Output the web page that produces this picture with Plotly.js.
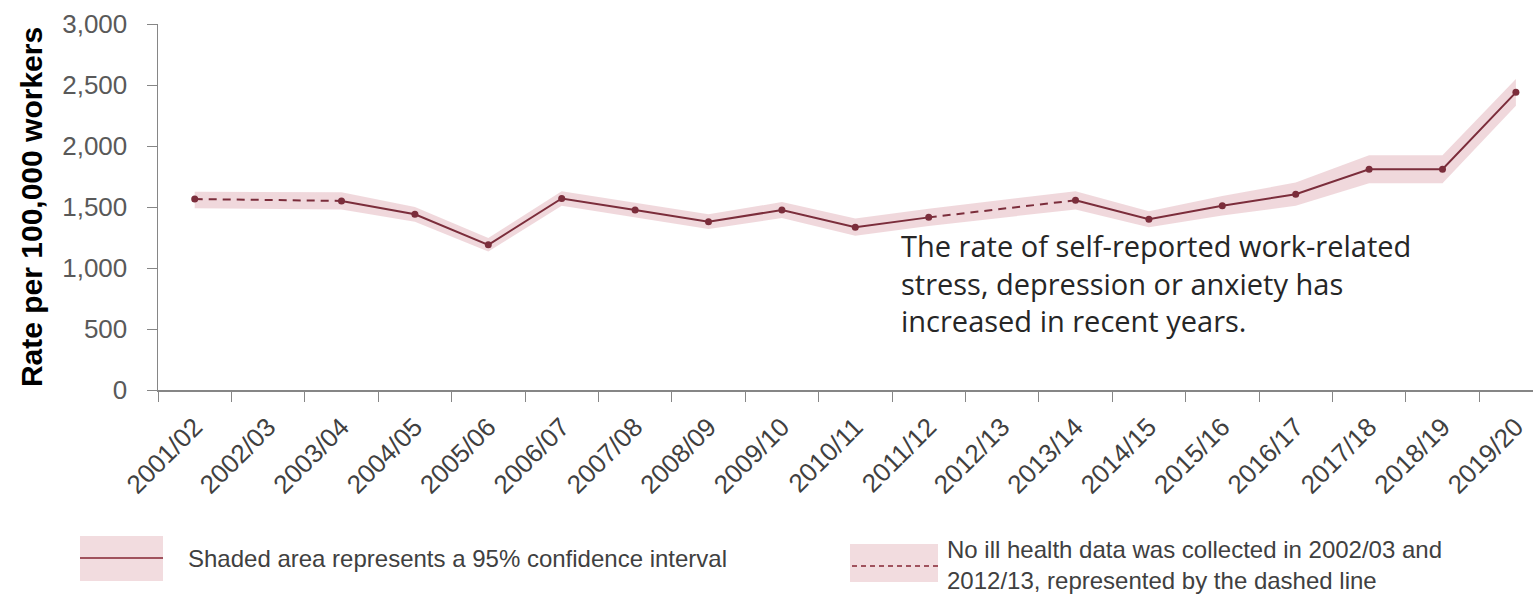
<!DOCTYPE html>
<html>
<head>
<meta charset="utf-8">
<script src="https://cdn.plot.ly/plotly-3.0.1.min.js"></script>
<style>
  html, body { margin: 0; padding: 0; background: #ffffff; }
  #chart { width: 1533px; height: 594px; }
</style>
</head>
<body>
<div id="chart"></div>
<script>
// ---- Data ----
const categories = ['2001/02','2002/03','2003/04','2004/05','2005/06','2006/07','2007/08','2008/09','2009/10','2010/11','2011/12','2012/13','2013/14','2014/15','2015/16','2016/17','2017/18','2018/19','2019/20'];
const rate    = [1565, null, 1550, 1440, 1190, 1570, 1475, 1380, 1475, 1335, 1415, null, 1555, 1400, 1510, 1605, 1810, 1810, 2440];
const ciLower = [1490, null, 1480, 1380, 1135, 1510, 1415, 1320, 1410, 1265, 1345, null, 1480, 1335, 1430, 1510, 1695, 1695, 2330];
const ciUpper = [1625, null, 1620, 1500, 1245, 1630, 1535, 1440, 1540, 1405, 1485, null, 1630, 1465, 1590, 1700, 1925, 1925, 2550];
const yTickVals = [0, 500, 1000, 1500, 2000, 2500, 3000];

const annotationText = 'The rate of self-reported work-related<br>stress, depression or anxiety has<br>increased in recent years.';
const legendText1 = 'Shaded area represents a 95% confidence interval';
const legendText2 = 'No ill health data was collected in 2002/03 and<br>2012/13, represented by the dashed line';

// ---- Styles ----
const lineColor = '#7b2d3b';
const bandColor = 'rgba(226,178,185,0.5)';
const legendLineColor = '#a0525d';

// dashed bridge across years with no data (derived from the data arrays)
const dashX = [], dashY = [];
rate.forEach((v, i) => {
  if (v === null && i > 0 && i < rate.length - 1) {
    dashX.push(categories[i - 1], categories[i + 1], null);
    dashY.push(rate[i - 1], rate[i + 1], null);
  }
});

const traces = [
  { x: categories, y: ciLower, type: 'scatter', mode: 'lines', connectgaps: true,
    line: { width: 0, color: bandColor }, hoverinfo: 'skip', showlegend: false },
  { x: categories, y: ciUpper, type: 'scatter', mode: 'lines', connectgaps: true,
    fill: 'tonexty', fillcolor: bandColor,
    line: { width: 0, color: bandColor }, hoverinfo: 'skip', showlegend: false },
  { x: dashX, y: dashY, type: 'scatter', mode: 'lines', connectgaps: false,
    line: { color: lineColor, width: 2, dash: '8px,6px' }, hoverinfo: 'skip', showlegend: false },
  { x: categories, y: rate, type: 'scatter', mode: 'lines+markers', connectgaps: false,
    line: { color: lineColor, width: 2 }, marker: { color: lineColor, size: 7 },
    name: 'Rate per 100,000 workers', showlegend: false }
];

// pixel helpers for decorations outside the plot area
const L = 158, T = 24, B = 390, R = 1533;
const W = R - L, H = B - T;
const px = v => (v - L) / W;
const py = v => (B - v) / H;

const shapes = [
  { type: 'rect', xref: 'paper', yref: 'paper', x0: px(80), x1: px(163), y0: py(581), y1: py(536),
    fillcolor: '#f2dcdf', line: { width: 0 } },
  { type: 'line', xref: 'paper', yref: 'paper', x0: px(80), x1: px(163), y0: py(558), y1: py(558),
    line: { color: legendLineColor, width: 2 } },
  { type: 'rect', xref: 'paper', yref: 'paper', x0: px(850), x1: px(938), y0: py(582), y1: py(544),
    fillcolor: '#f2dcdf', line: { width: 0 } },
  { type: 'line', xref: 'paper', yref: 'paper', x0: px(852), x1: px(938), y0: py(566), y1: py(566),
    line: { color: legendLineColor, width: 2, dash: '5px,4px' } }
];

const legendFont = { family: '"Liberation Sans", Arial, sans-serif', size: 24, color: '#404040' };

const annotations = [
  { text: annotationText, xref: 'paper', yref: 'paper', x: px(899), y: py(224),
    xanchor: 'left', yanchor: 'top', align: 'left', showarrow: false,
    font: { family: '"Open Sans", "Noto Sans", sans-serif', size: 29, color: '#262626' } },
  { text: legendText1, xref: 'paper', yref: 'paper', x: px(186), y: py(558),
    xanchor: 'left', yanchor: 'middle', align: 'left', showarrow: false, font: legendFont },
  { text: legendText2, xref: 'paper', yref: 'paper', x: px(945), y: py(565),
    xanchor: 'left', yanchor: 'middle', align: 'left', showarrow: false, font: legendFont }
];

const layout = {
  width: 1533, height: 594,
  margin: { l: L, r: 0, t: T, b: 594 - B, pad: 0 },
  paper_bgcolor: '#ffffff', plot_bgcolor: '#ffffff',
  showlegend: false,
  xaxis: {
    type: 'category', categoryorder: 'array', categoryarray: categories,
    range: [-0.5, (R - L) / 73.4 - 0.5],
    tickson: 'boundaries', ticks: 'outside', ticklen: 10, tickcolor: '#868686', tickwidth: 1,
    ticklabelstandoff: 10,
    showline: true, linecolor: '#868686', linewidth: 1.5,
    showgrid: false, zeroline: false, tickangle: -45,
    tickfont: { family: '"Liberation Sans", Arial, sans-serif', size: 26, color: '#404040' },
    fixedrange: true
  },
  yaxis: {
    range: [0, 3000], tickmode: 'array', tickvals: yTickVals, tickformat: ',d',
    ticks: 'outside', ticklen: 10, tickcolor: '#868686', tickwidth: 1,
    ticklabelstandoff: 14,
    showline: true, linecolor: '#868686', linewidth: 1.5,
    showgrid: false, zeroline: false,
    tickfont: { family: '"Liberation Sans", Arial, sans-serif', size: 26, color: '#595959' },
    title: { text: 'Rate per 100,000 workers', standoff: 10,
      font: { family: '"Liberation Sans", Arial, sans-serif', size: 30, color: '#000000', weight: 'bold' } },
    fixedrange: true
  },
  shapes: shapes,
  annotations: annotations
};

Plotly.newPlot('chart', traces, layout, { displayModeBar: false, staticPlot: true });
</script>
</body>
</html>
